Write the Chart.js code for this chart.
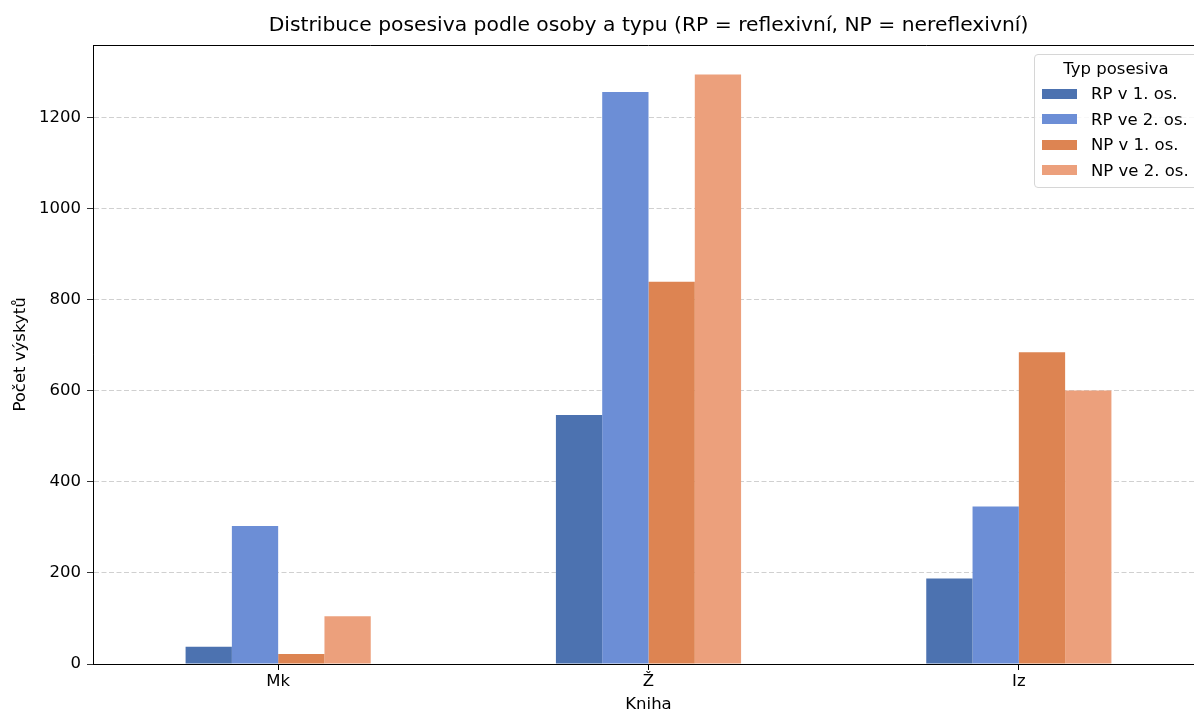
<!DOCTYPE html>
<html>
<head>
<meta charset="utf-8">
<script src="https://cdn.jsdelivr.net/npm/chart.js@4.4.1/dist/chart.umd.min.js"></script>
<style>
  html, body { margin: 0; padding: 0; background: #fff; overflow: hidden; }
  #wrap { position: relative; width: 1204px; height: 715px; }
  #legend {
    position: absolute; left: 1034px; top: 54px; width: 162px; height: 132px;
    border: 1px solid #d6d6d6; border-radius: 4px; background: rgba(255,255,255,0.85);
    font-family: "DejaVu Sans", sans-serif; font-size: 16.5px; color: #000;
  }
  #legend .ttl { position: absolute; left: 0; width: 162px; top: 2px; line-height: 24px; text-align: center; }
  #legend .row { position: absolute; left: 7px; height: 22px; line-height: 22px; white-space: nowrap; }
  #legend .sw { display: inline-block; width: 35px; height: 10px; vertical-align: middle; margin-right: 14px; position: relative; top: -1px; }
</style>
</head>
<body>
<div id="wrap">
  <canvas id="chart-posesiva" width="1204" height="715"></canvas>
  <div id="legend"></div>
</div>
<script>
const books = ["Mk", "Ž", "Iz"];
const seriesLabels = ["RP v 1. os.", "RP ve 2. os.", "NP v 1. os.", "NP ve 2. os."];
const rp1 = [38, 547, 188];
const rp2 = [303, 1257, 346];
const np1 = [22, 840, 685];
const np2 = [105, 1295, 601];
const yTicks = [0, 200, 400, 600, 800, 1000, 1200];
const colors = ["#4c72b0", "#6c8ed6", "#dd8452", "#eca07c"];

const font = "DejaVu Sans";

// osy jako v matplotlibu: rámeček nahoře + titulek nad plochou grafu
const frameAndTitle = {
  id: "frameAndTitle",
  afterDraw(chart) {
    const { ctx, chartArea: a } = chart;
    ctx.save();
    ctx.strokeStyle = "#000";
    ctx.lineWidth = 1;
    ctx.beginPath();
    ctx.moveTo(a.left, a.top + 0.5);
    ctx.lineTo(a.right, a.top + 0.5);
    ctx.moveTo(a.right - 0.5, a.top);
    ctx.lineTo(a.right - 0.5, a.bottom);
    ctx.stroke();
    ctx.fillStyle = "#000";
    ctx.font = "20.3px '" + font + "'";
    ctx.textAlign = "center";
    ctx.textBaseline = "middle";
    ctx.fillText("Distribuce posesiva podle osoby a typu (RP = reflexivní, NP = nereflexivní)", (a.left + a.right) / 2, 26);
    ctx.restore();
  },
};

const datasets = [rp1, rp2, np1, np2].map((d, i) => ({
  label: seriesLabels[i],
  data: d,
  backgroundColor: colors[i],
  borderWidth: 0,
  categoryPercentage: 0.5,
  barPercentage: 1.0,
}));

const chart = new Chart(document.getElementById("chart-posesiva"), {
  type: "bar",
  data: { labels: books, datasets: datasets },
  plugins: [frameAndTitle],
  options: {
    responsive: false,
    animation: false,
    layout: { padding: { top: 45, left: 0, right: 0, bottom: 0 } },
    plugins: {
      legend: { display: false },
      title: { display: false },
      tooltip: { enabled: false },
    },
    scales: {
      x: {
        offset: true,
        grid: { display: true, drawOnChartArea: false, offset: false, tickLength: 6, color: "#000", tickColor: "#000" },
        border: { color: "#000", width: 1 },
        ticks: { color: "#000", font: { family: font, size: 16.5 }, padding: 2 },
        title: { display: true, text: "Kniha", color: "#000", font: { family: font, size: 16.5 }, padding: { top: 0, bottom: 0 } },
        afterFit: (s) => { s.height = 51; },
      },
      y: {
        min: 0,
        max: 1360,
        grid: { color: "#c4c4c4", lineWidth: 0.8, tickLength: 6, tickColor: "#000", tickBorderDash: [] },
        border: { color: "#000", width: 1, dash: [5, 2.5] },
        ticks: {
          stepSize: 200, includeBounds: false, color: "#000", font: { family: font, size: 16.5 }, padding: 6,
          callback: (v) => String(v),
        },
        afterBuildTicks: (s) => { s.ticks = yTicks.map((v) => ({ value: v })); },
        title: { display: true, text: "Počet výskytů", color: "#000", font: { family: font, size: 16.5 }, padding: { top: 11, bottom: 0 } },
        afterFit: (s) => { s.width = 93; },
      },
    },
  },
});

// legenda uvnitř grafu vpravo nahoře
const leg = document.getElementById("legend");
leg.innerHTML = '<div class="ttl">Typ posesiva</div>';
chart.data.datasets.forEach((ds, i) => {
  const row = document.createElement("div");
  row.className = "row";
  row.style.top = (28 + i * 25.5) + "px";
  row.innerHTML = '<span class="sw" style="background:' + ds.backgroundColor + '"></span>' + ds.label;
  leg.appendChild(row);
});
</script>
</body>
</html>
